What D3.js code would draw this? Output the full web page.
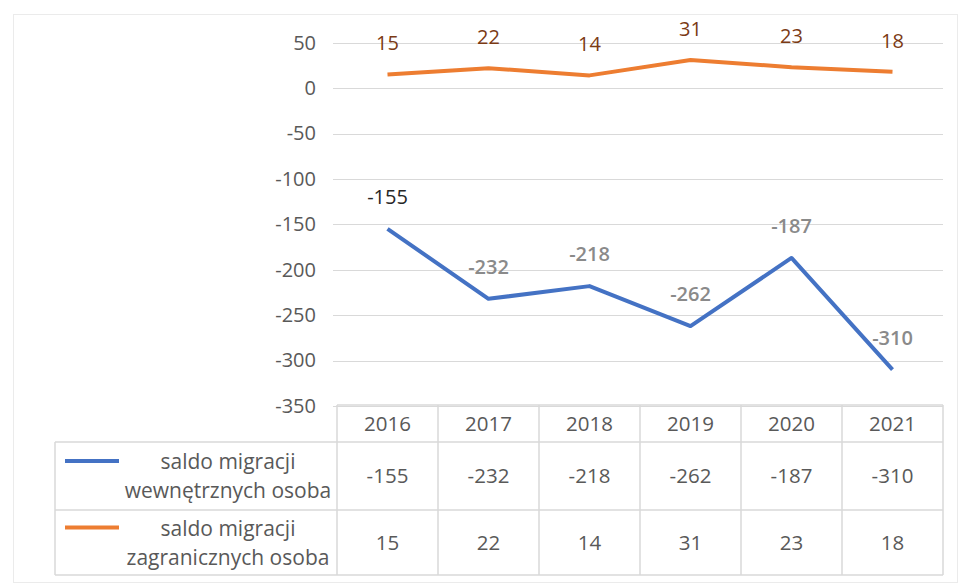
<!DOCTYPE html>
<html>
<head>
<meta charset="utf-8">
<script src="https://cdn.jsdelivr.net/npm/d3@7"></script>
<style>
  body { margin: 0; background: #fff; }
  svg { display: block; font-family: "Open Sans", "Noto Sans", sans-serif; }
</style>
</head>
<body>
<svg id="chart" width="960" height="584"></svg>
<script>
var years = ["2016", "2017", "2018", "2019", "2020", "2021"];
var internal = [-155, -232, -218, -262, -187, -310];
var foreign = [15, 22, 14, 31, 23, 18];
var seriesNames = [
  ["saldo migracji", "wewnętrznych osoba"],
  ["saldo migracji", "zagranicznych osoba"]
];
var yTicks = [50, 0, -50, -100, -150, -200, -250, -300, -350];

var blue = "#4472c4", orange = "#ed7d31";
var grid = "#d9d9d9", textCol = "#595959";
var fs = 20.5;

var svg = d3.select("#chart");

// outer chart frame
svg.append("rect")
  .attr("x", 13.5).attr("y", 14.5)
  .attr("width", 944).attr("height", 568)
  .attr("fill", "none").attr("stroke", "#ebebeb");

var plotLeft = 337, plotRight = 943;
var x = d3.scaleBand().domain(years).range([plotLeft, plotRight]);
var y = d3.scaleLinear().domain([-350, 50]).range([406, 42.7]);

// gridlines
svg.append("g").selectAll("line")
  .data(yTicks)
  .join("line")
  .attr("x1", 333).attr("x2", plotRight)
  .attr("y1", function (d) { return Math.round(y(d)) + 0.5; })
  .attr("y2", function (d) { return Math.round(y(d)) + 0.5; })
  .attr("stroke", grid).attr("stroke-width", 1.2);

// y axis labels (plain hyphen, like Excel)
var yAxis = d3.axisLeft(y).tickValues(yTicks).tickSize(0).tickPadding(0)
  .tickFormat(function (d) { return String(d); });
var ga = svg.append("g").attr("transform", "translate(316,0)").call(yAxis);
ga.select(".domain").remove();
ga.selectAll("text")
  .attr("fill", textCol)
  .attr("font-size", 20)
  .attr("font-family", "Open Sans, sans-serif");

var line = d3.line()
  .x(function (d, i) { return x(years[i]) + x.bandwidth() / 2; })
  .y(function (d) { return y(d); });

svg.append("path").datum(foreign)
  .attr("d", line).attr("fill", "none")
  .attr("stroke", orange).attr("stroke-width", 4).attr("stroke-linejoin", "round");

svg.append("path").datum(internal)
  .attr("d", line).attr("fill", "none")
  .attr("stroke", blue).attr("stroke-width", 4).attr("stroke-linejoin", "round");

// data labels
svg.append("g").selectAll("text")
  .data(foreign)
  .join("text")
  .attr("x", function (d, i) { return x(years[i]) + x.bandwidth() / 2; })
  .attr("y", function (d) { return y(d) - 24; })
  .attr("text-anchor", "middle")
  .attr("font-size", 20)
  .attr("fill", "#7b3a14")
  .text(function (d) { return d; });

svg.append("g").selectAll("text")
  .data(internal)
  .join("text")
  .attr("x", function (d, i) { return x(years[i]) + x.bandwidth() / 2; })
  .attr("y", function (d) { return y(d) - 25; })
  .attr("text-anchor", "middle")
  .attr("font-size", 20)
  .attr("font-weight", function (d, i) { return i === 0 ? 400 : 600; })
  .attr("fill", function (d, i) { return i === 0 ? "#262626" : "#8a8a8a"; })
  .text(function (d) { return d; });

// data table
var tableLeft = 55, headerTop = 405, headerBottom = 442;
var rowBottoms = [510, 575];
var tbl = svg.append("g").attr("stroke", grid).attr("stroke-width", 1.5).attr("fill", "none");

tbl.append("line").attr("x1", plotLeft).attr("x2", plotRight).attr("y1", headerTop).attr("y2", headerTop);
tbl.append("line").attr("x1", tableLeft).attr("x2", plotRight).attr("y1", headerBottom).attr("y2", headerBottom);
rowBottoms.forEach(function (b) {
  tbl.append("line").attr("x1", tableLeft).attr("x2", plotRight).attr("y1", b).attr("y2", b);
});
tbl.append("line").attr("x1", tableLeft).attr("x2", tableLeft).attr("y1", headerBottom).attr("y2", rowBottoms[1]);
years.forEach(function (yr) {
  tbl.append("line").attr("x1", x(yr)).attr("x2", x(yr)).attr("y1", headerTop).attr("y2", rowBottoms[1]);
});
tbl.append("line").attr("x1", plotRight).attr("x2", plotRight).attr("y1", headerTop).attr("y2", rowBottoms[1]);

// header years
svg.append("g").selectAll("text")
  .data(years)
  .join("text")
  .attr("x", function (d) { return x(d) + x.bandwidth() / 2; })
  .attr("y", (headerTop + headerBottom) / 2)
  .attr("dy", "0.35em")
  .attr("text-anchor", "middle")
  .attr("font-size", fs)
  .attr("fill", textCol)
  .text(function (d) { return d; });

// rows
var rows = [internal, foreign];
var colors = [blue, orange];
var rowTops = [headerBottom, rowBottoms[0]];
rows.forEach(function (vals, r) {
  var mid = (rowTops[r] + rowBottoms[r]) / 2;
  svg.append("g").selectAll("text")
    .data(vals)
    .join("text")
    .attr("x", function (d, i) { return x(years[i]) + x.bandwidth() / 2; })
    .attr("y", mid)
    .attr("dy", "0.35em")
    .attr("text-anchor", "middle")
    .attr("font-size", fs)
    .attr("fill", textCol)
    .text(function (d) { return d; });

  svg.append("line")
    .attr("x1", 65).attr("x2", 119)
    .attr("y1", mid - 15).attr("y2", mid - 15)
    .attr("stroke", colors[r]).attr("stroke-width", 4);

  svg.append("g").selectAll("text")
    .data(seriesNames[r])
    .join("text")
    .attr("x", 228)
    .attr("y", function (d, i) { return mid - 14 + i * 29; })
    .attr("dy", "0.35em")
    .attr("text-anchor", "middle")
    .attr("font-size", 21)
    .attr("fill", textCol)
    .text(function (d) { return d; });
});
</script>
</body>
</html>
